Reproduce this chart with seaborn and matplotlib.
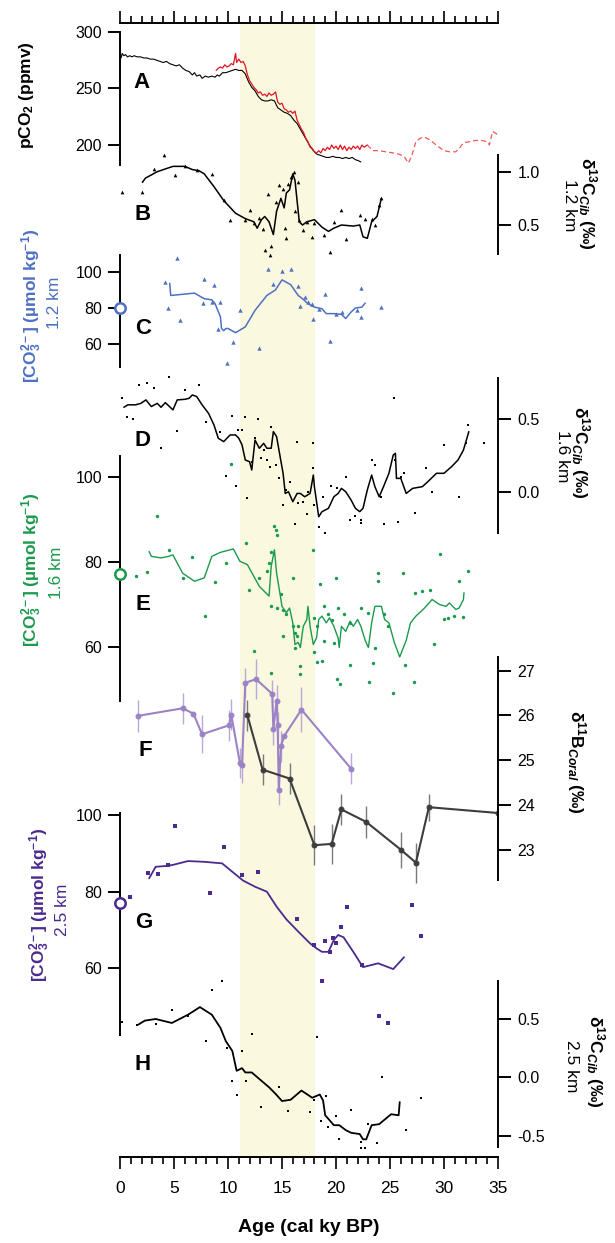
import matplotlib
matplotlib.use("Agg")
import matplotlib.pyplot as plt
from matplotlib.ticker import MultipleLocator
import seaborn as sns

sns.set_theme(style="ticks")
plt.rcParams["font.family"] = ["Liberation Sans", "DejaVu Sans"]
plt.rcParams["mathtext.fontset"] = "custom"
plt.rcParams["mathtext.rm"] = "Liberation Sans"
plt.rcParams["mathtext.it"] = "Liberation Sans:italic"
plt.rcParams["mathtext.bf"] = "Liberation Sans:bold"
plt.rcParams["mathtext.bfit"] = "Liberation Sans:bold:italic"
plt.rcParams["axes.unicode_minus"] = False
for key in ["text.color", "axes.labelcolor", "axes.edgecolor", "xtick.color", "ytick.color",
            "xtick.labelcolor", "ytick.labelcolor"]:
    plt.rcParams[key] = "black"

# ---------------- data ----------------
# A: atmospheric pCO2, ice core composite (black)
co2_ice_age = [0.1, 0.2, 0.35, 0.5, 0.7, 0.9, 1.1, 1.3, 1.6, 1.9, 2.2, 2.5, 2.8, 3.1, 3.4, 3.7,
               4.0, 4.3, 4.6, 4.9, 5.2, 5.5, 5.8, 6.1, 6.4, 6.7, 6.9, 7.1, 7.4, 7.6, 7.9, 8.2,
               8.5, 8.8, 9.0, 9.2, 9.5, 9.8, 10.1, 10.4, 10.7, 11.0, 11.3, 11.6, 11.9, 12.2,
               12.5, 12.8, 13.1, 13.4, 13.7, 14.0, 14.3, 14.6, 14.9, 15.2, 15.5, 15.8, 16.1,
               16.4, 16.7, 17.0, 17.3, 17.6, 17.9, 18.2, 18.5, 18.8, 19.1, 19.4, 19.7, 20.0,
               20.3, 20.6, 20.9, 21.2, 21.5, 21.8, 22.1, 22.3]
co2_ice = [277, 281, 279, 280, 278, 279, 278, 279, 278, 278, 277, 277, 276, 276, 275, 274,
           273, 274, 272, 271, 270, 271, 268, 266, 265, 262, 264, 261, 262, 259, 261, 260,
           261, 260, 262, 261, 264, 264, 265, 266, 267, 266, 266, 263, 256, 251,
           248, 243, 240, 239, 239, 240, 239, 233, 231, 229, 228, 226, 222,
           219, 214, 209, 204, 199, 195, 192, 191, 190, 189, 189, 190, 189,
           189, 188, 189, 188, 189, 187, 186, 185]
# A: high-resolution record (red)
co2_hr_age = [8.9, 9.1, 9.3, 9.5, 9.7, 9.9, 10.1, 10.3, 10.5, 10.7, 10.8, 11.0, 11.2, 11.4,
              11.6, 11.8, 12.0, 12.2, 12.4, 12.6, 12.8, 13.0, 13.2, 13.4, 13.6, 13.8, 14.0,
              14.2, 14.4, 14.6, 14.8, 15.0, 15.2, 15.4, 15.6, 15.8, 16.0, 16.2, 16.4, 16.6,
              16.8, 17.0, 17.2, 17.4, 17.6, 17.8, 18.0, 18.2, 18.4, 18.6, 18.8, 19.0, 19.2,
              19.4, 19.6, 19.8, 20.0, 20.2, 20.4, 20.6, 20.8, 21.0, 21.2, 21.4, 21.6, 21.8,
              22.0, 22.2, 22.4, 22.6, 22.9]
co2_hr = [266, 268, 269, 268, 271, 269, 270, 272, 271, 281, 273, 276, 273, 274,
          270, 262, 257, 254, 251, 249, 246, 247, 244, 245, 243, 246, 244,
          245, 247, 238, 236, 237, 232, 231, 229, 230, 228, 230, 222, 218,
          214, 211, 206, 203, 198, 197, 194, 193, 195, 193, 197, 195, 198,
          196, 200, 197, 199, 196, 200, 196, 199, 195, 198, 196, 199, 197,
          199, 196, 200, 198, 200]
# A: older extension (dashed red)
co2_ext_age = [22.9, 23.4, 24.0, 24.6, 25.3, 25.8, 26.3, 26.7, 27.0, 27.4, 27.8, 28.2, 28.6,
               28.9, 29.4, 30.0, 30.5, 31.1, 31.5, 31.8, 32.4, 32.9, 33.5, 34.0, 34.2, 34.5, 35.0]
co2_ext = [200, 195, 195, 194, 193, 192, 190, 184, 190, 203, 206, 207, 205,
           203, 199, 195, 194, 194, 198, 202, 203, 204, 204, 203, 200, 212, 209]

# B: d13C Cib, 1.2 km
b_line_age = [2.07, 2.36, 3.45, 4.9, 6.0, 6.7, 7.3, 7.8, 8.7, 9.6, 10.7, 11.6, 12.4, 12.7, 13.1,
              13.4, 13.8, 14.2, 14.5, 14.9, 15.2, 15.4, 15.7, 16.0, 16.2, 16.6, 16.9, 17.3,
              18.0, 18.7, 19.3, 19.8, 20.5, 21.6, 22.2, 22.5, 22.9, 23.3, 23.8, 24.2]
b_line = [0.90, 0.94, 1.00, 1.05, 1.05, 1.02, 1.01, 0.98, 0.86, 0.73, 0.61, 0.56, 0.53, 0.47, 0.55,
          0.58, 0.53, 0.41, 0.63, 0.75, 0.66, 0.80, 0.83, 0.98, 0.92, 0.53, 0.50, 0.53,
          0.55, 0.48, 0.44, 0.47, 0.50, 0.49, 0.50, 0.39, 0.375, 0.53, 0.58, 0.75]
b_pts_age = [0.18, 2.07, 3.16, 4.1, 5.1, 6.0, 7.1, 8.5, 9.6, 10.2, 11.6, 12.0, 12.4, 12.9, 13.2,
             13.4, 13.9, 14.0, 13.7, 14.4, 14.7, 15.1, 15.3, 15.4, 15.6, 15.8, 16.1, 16.2,
             16.5, 16.6, 16.9, 17.3, 17.8, 18.0, 18.9, 19.4, 19.8, 20.5, 20.9, 22.2, 22.7,
             23.3, 23.6, 24.0, 24.2]
b_pts = [0.81, 0.81, 1.03, 1.16, 0.97, 1.05, 1.02, 0.98, 0.73, 0.55, 0.55, 0.64, 0.52, 0.57, 0.46,
         0.27, 0.22, 0.30, 0.79, 0.72, 0.875, 0.84, 0.47, 0.375, 0.88, 0.95, 1.0, 0.63,
         0.90, 0.55, 0.45, 0.53, 0.39, 0.52, 0.41, 0.25, 0.53, 0.64, 0.37, 0.59, 0.56,
         0.56, 0.50, 0.69, 0.75]

# C: [CO3 2-], 1.2 km
c_line_age = [4.6, 4.7, 6.9, 7.8, 8.5, 8.8, 9.3, 9.4, 9.6, 9.8, 10.0, 10.7, 11.6, 12.5, 13.6,
              14.4, 15.0, 15.8, 16.5, 16.9, 17.4, 18.0, 18.7, 19.1, 19.8, 20.5, 20.9, 21.4,
              21.8, 22.4, 22.7]
c_line = [93.6, 86.9, 88.2, 85.1, 84.5, 82.4, 75.1, 68.7, 67.5, 68.7, 68.7, 66.4, 69.6, 78.7, 86.9,
          90.0, 95.5, 92.9, 86.9, 85.1, 82.4, 80.5, 79.6, 76.9, 76.9, 76.5, 74.2, 77.8,
          80.0, 80.5, 82.7]
c_pts_age = [4.2, 5.3, 4.4, 5.6, 7.8, 7.7, 8.7, 8.5, 9.3, 9.1, 10.5, 11.1, 9.9, 12.9, 13.7,
             15.0, 15.8, 14.2, 16.5, 16.7, 17.1, 17.4, 17.8, 17.9, 18.4, 19.0, 19.4, 20.0,
             20.6, 21.9, 22.3, 22.3, 24.2]
c_pts = [94.2, 107.5, 80.0, 73.3, 96.0, 82.7, 92.9, 83.3, 83.3, 68.7, 61.5, 79.1, 49.6, 57.8, 101.5,
         100.5, 101.5, 93.3, 92.0, 80.9, 86.0, 83.3, 82.4, 73.8, 79.6, 87.8, 62.0, 76.9,
         77.8, 78.7, 90.9, 75.1, 80.5]
c_modern = 80.0

# D: d13C Cib, 1.6 km
d_line_age = [0.36, 0.73, 1.45, 1.93, 2.4, 2.9, 3.45, 3.8, 4.2, 4.9, 5.3, 6.0, 6.4, 6.7, 7.1,
              7.6, 8.2, 8.7, 9.1, 9.6, 10.2, 10.7, 11.0, 11.3, 11.6, 12.0, 12.2, 12.5, 12.9,
              13.3, 13.6, 14.0, 14.2, 14.5, 14.8, 15.1, 15.3, 15.6, 16.0, 16.4, 16.7, 17.1,
              17.6, 17.9, 18.0, 18.4, 18.7, 19.3, 19.8, 20.2, 20.5, 20.9, 21.4, 21.8, 22.2,
              22.5, 22.9, 23.3, 23.6, 24.0, 24.4, 24.9, 25.3, 25.5, 25.6, 26.0, 26.5, 27.1,
              28.0, 28.5, 29.3, 30.0, 30.7, 31.3, 31.8, 32.3]
d_line = [0.583, 0.60, 0.60, 0.61, 0.634, 0.588, 0.61, 0.583, 0.615, 0.565, 0.634, 0.638, 0.645,
          0.668, 0.657, 0.60, 0.541, 0.461, 0.369, 0.346, 0.392, 0.392, 0.369, 0.323, 0.219,
          0.207, 0.150, 0.357, 0.30, 0.334, 0.30, 0.30, 0.415, 0.380, 0.253, 0.127, -0.012,
          0.0, -0.069, -0.012, -0.012, -0.035, -0.012, 0.115, 0.035, -0.173, -0.138, -0.115,
          -0.035, -0.012, 0.023, 0.0, -0.058, -0.115, -0.138, -0.115, 0.012, 0.115, 0.035,
          -0.035, 0.035, 0.127, 0.253, 0.265, 0.092, 0.092, -0.012, 0.023, 0.035, 0.069,
          0.127, 0.127, 0.173, 0.219, 0.288, 0.415]
d_pts_age = [0.18, 0.62, 1.2, 1.8, 2.5, 3.16, 3.8, 4.5, 5.3, 6.0, 7.3, 8.0, 9.3, 9.8, 10.4, 10.7,
             10.9, 11.3, 11.6, 11.8, 12.2, 12.5, 12.8, 13.1, 13.3, 13.6, 13.9, 14.0, 14.4,
             14.7, 15.1, 15.4, 15.7, 16.2, 16.4, 16.5, 16.9, 17.3, 17.4, 17.9, 17.9, 18.0,
             18.4, 19.0, 18.8, 19.5, 20.1, 20.9, 21.3, 21.8, 22.3, 22.3, 23.3, 23.6, 24.2,
             24.4, 25.4, 25.5, 25.7, 26.0, 26.3, 27.3, 28.3, 28.9, 30.0, 31.4, 32.0, 32.2, 33.7]
d_pts = [0.645, 0.514, 0.50, 0.737, 0.749, 0.714, 0.30, 0.79, 0.422, 0.703, 0.737, 0.484, 0.415,
         0.108, 0.523, 0.039, 0.426, 0.426, 0.514, -0.042, 0.207, 0.369, 0.50, 0.230, 0.288,
         0.219, 0.168, 0.449, 0.184, 0.092, -0.092, 0.012, 0.069, -0.224, 0.346, -0.081,
         -0.069, -0.154, 0.0, 0.161, 0.334, -0.092, -0.247, -0.288, -0.035, 0.039, 0.023,
         0.104, -0.196, -0.168, -0.219, -0.196, 0.219, 0.184, -0.035, -0.224, 0.645, 0.219,
         -0.207, 0.104, 0.127, -0.150, 0.161, 0.0, 0.323, -0.039, 0.339, 0.461, 0.339]

# E: [CO3 2-], 1.6 km
e_line_age = [2.7, 2.9, 3.8, 4.5, 4.9, 5.8, 6.9, 7.8, 8.5, 9.3, 10.5, 11.1, 11.8, 12.9, 13.8,
              14.0, 14.3, 14.5, 14.8, 15.0, 15.4, 15.7, 16.0, 16.2, 16.5, 16.7, 16.97, 17.3,
              17.4, 17.6, 17.9, 18.2, 18.4, 18.7, 19.1, 19.4, 19.8, 20.2, 20.3, 20.5, 20.9,
              21.3, 21.6, 22.0, 22.3, 22.7, 23.0, 23.3, 23.6, 24.2, 24.5, 24.9, 25.4, 25.9,
              26.5, 26.9, 27.4, 28.2, 28.9, 29.6, 30.2, 30.5, 31.1, 31.4, 31.8, 31.85]
e_line = [82.4, 81.25, 80.9, 81.25, 81.6, 77.3, 75.4, 76.2, 81.25, 82.2, 83.0, 80.1, 79.3, 74.2,
          71.9, 78.9, 82.8, 77.3, 72.7, 69.5, 68.0, 69.1, 65.6, 60.5, 61.0, 59.8, 64.8, 66.4,
          69.5, 64.8, 60.5, 62.1, 66.4, 67.2, 65.6, 66.8, 64.8, 62.0, 59.8, 64.8, 63.6,
          66.0, 64.8, 66.4, 64.8, 61.5, 59.8, 65.6, 69.5, 69.5, 66.4, 65.6, 61.0, 57.6,
          61.5, 65.6, 67.2, 69.1, 71.1, 69.9, 69.5, 70.3, 68.75, 69.1, 71.1, 72.7]
e_pts_age = [1.45, 2.5, 3.45, 4.5, 5.8, 6.7, 7.9, 8.8, 9.8, 10.3, 11.7, 11.9, 12.9, 13.6, 13.8,
             14.0, 14.3, 14.4, 14.5, 14.0, 14.5, 14.9, 15.1, 15.4, 16.0, 16.0, 16.2, 16.4,
             16.5, 17.9, 18.0, 18.2, 18.5, 18.9, 19.3, 19.6, 20.0, 20.2, 20.7, 21.3, 22.3,
             23.0, 23.9, 23.9, 24.4, 24.8, 26.2, 27.3, 28.0, 28.7, 29.6, 30.0, 30.4, 30.9,
             31.4, 31.8, 32.2, 12.4, 14.0, 15.1, 16.2, 16.7, 16.7, 18.0, 18.2, 18.7, 18.9,
             19.8, 20.1, 20.4, 21.3, 23.1, 23.4, 23.6, 25.3, 26.4, 27.2, 29.1]
e_pts = [76.7, 77.5, 90.8, 82.8, 76.2, 81.1, 67.3, 75.2, 79.8, 102.9, 84.4, 73.4, 76.2, 77.7, 79.7,
         82.4, 88.4, 87.5, 86.3, 69.5, 69.1, 72.3, 68.75, 67.6, 76.2, 64.8, 63.3, 62.5,
         64.8, 82.8, 66.8, 64.8, 74.8, 69.5, 67.6, 66.4, 76.2, 69.1, 67.6, 65.6, 69.1,
         68.0, 77.3, 75.4, 67.6, 64.8, 77.3, 72.7, 73.0, 73.4, 81.9, 66.6, 66.8, 67.2,
         75.4, 67.0, 77.7, 59.1, 53.9, 62.5, 59.6, 55.5, 53.6, 58.8, 56.3, 56.7, 61.3,
         60.8, 52.5, 51.2, 55.7, 51.8, 56.1, 59.6, 49.2, 55.7, 51.6, 60.6]
e_modern = 77.1

# F: d11B of deep-sea corals (two sites)
f_lt_age = [1.64, 5.8, 6.8, 7.6, 10.1, 10.3, 11.1, 11.3, 11.6, 12.6, 14.1, 14.2, 14.5, 14.6,
            14.7, 14.9, 15.2, 16.8, 21.4]
f_lt = [25.99, 26.16, 26.04, 25.58, 25.78, 26.02, 24.94, 24.89, 26.73, 26.81, 26.48, 25.69,
        26.33, 25.78, 24.34, 25.31, 25.54, 26.13, 24.81]
f_lt_err = [0.35, 0.35, 0.0, 0.43, 0.34, 0.34, 0.34, 0.39, 0.34, 0.45, 0.32, 0.35, 0.34, 0.3,
            0.35, 0.35, 0.0, 0.5, 0.34]
f_dk_age = [11.8, 13.2, 15.7, 18.0, 19.6, 20.5, 22.8, 26.0, 27.4, 28.6, 35.0]
f_dk = [26.0, 24.79, 24.59, 23.1, 23.13, 23.9, 23.62, 23.0, 22.71, 23.95, 23.82]
f_dk_err = [0.34, 0.35, 0.35, 0.45, 0.45, 0.35, 0.35, 0.4, 0.45, 0.3, 0.0]

# G: [CO3 2-], 2.5 km
g_line_age = [2.7, 3.3, 4.2, 4.9, 6.3, 7.8, 9.45, 10.4, 11.4, 12.5, 13.6, 14.5, 15.4, 16.5,
              17.6, 18.2, 18.7, 19.3, 19.8, 20.2, 20.7, 21.6, 22.5, 23.9, 25.3, 26.3]
g_line = [83.5, 86.5, 86.7, 87.0, 88.0, 87.8, 87.4, 85.2, 82.9, 81.3, 80.0, 76.1, 72.8, 69.6,
          66.5, 65.2, 64.3, 64.3, 67.4, 68.7, 68.1, 64.3, 60.3, 61.3, 59.8, 62.9]
g_pts_age = [0.9, 2.6, 3.5, 4.4, 5.1, 9.6, 8.35, 11.3, 12.8, 16.4, 18.0, 18.7, 19.0, 19.4,
             19.7, 20.0, 20.5, 21.0, 27.0, 27.9, 24.0, 24.8, 22.4]
g_pts = [78.5, 85.0, 84.6, 87.0, 97.1, 91.6, 79.6, 84.3, 85.1, 72.9, 66.1, 56.8, 67.0, 64.3,
         67.8, 66.5, 70.7, 76.1, 76.5, 68.4, 47.6, 45.8, 60.9]
g_modern = 77.1

# H: d13C Cib, 2.5 km
h_line_age = [1.7, 2.3, 3.3, 4.8, 6.3, 7.4, 8.5, 9.3, 9.8, 10.4, 10.8, 11.3, 11.6, 12.2, 12.9,
              13.8, 14.4, 15.0, 15.8, 16.8, 17.8, 18.5, 18.8, 19.0, 19.4, 19.8, 20.3, 20.9,
              21.4, 22.2, 22.5, 22.8, 23.3, 24.0, 25.1, 25.8, 25.9]
h_line = [0.452, 0.486, 0.50, 0.466, 0.537, 0.602, 0.537, 0.424, 0.31, 0.226, 0.056, 0.079,
          0.042, 0.042, -0.014, -0.085, -0.141, -0.203, -0.192, -0.113, -0.175, -0.147,
          -0.198, -0.325, -0.367, -0.41, -0.41, -0.452, -0.475, -0.486, -0.531, -0.531,
          -0.41, -0.401, -0.316, -0.325, -0.212]
h_pts_age = [0.18, 1.6, 3.3, 4.8, 6.3, 8.0, 8.5, 9.45, 9.9, 12.25, 11.3, 18.2, 10.4, 10.8,
             11.7, 13.1, 14.7, 15.6, 17.6, 18.0, 19.1, 18.6, 19.3, 20.0, 20.3, 21.4, 22.3,
             22.3, 22.7, 23.0, 23.8, 24.3, 26.5, 27.9]
h_pts = [0.472, 0.452, 0.458, 0.579, 0.523, 0.311, 0.749, 0.828, 0.254, 0.373, 0.226, 0.347,
         -0.028, -0.155, -0.034, -0.254, -0.085, -0.288, -0.297, -0.198, -0.164, -0.373,
         -0.424, -0.333, -0.528, -0.282, -0.551, -0.607, -0.602, -0.401, -0.559, 0.006,
         -0.452, -0.181]

band_start, band_end = 11.15, 18.05
age_ticks = [0, 5, 10, 15, 20, 25, 30, 35]

# colours
RED, RED_LT = "#df1620", "#f0585a"
BLUE = "#4d70c2"
GREEN = "#1a9a4c"
PURPLE_LT, PURPLE_LT_ERR = "#9c82c6", "#bba8db"
GREY, GREY_ERR = "#3d3d3d", "#7a7a7a"
PURPLE_DK = "#4b2a8f"
BAND = "#faf8df"

# ---------------- layout ----------------
W, H = 615, 1243
X0, X1 = 120, 498      # pixel columns of age 0 and 35
YT, YB = 23, 1157      # pixel rows of the top and bottom age axes
RECT = [X0 / W, 1 - YB / H, (X1 - X0) / W, (YB - YT) / H]

fig = plt.figure(figsize=(W / 100, H / 100), dpi=100)


def fpos(x, y):
    return x / W, 1 - y / H


base = fig.add_axes(RECT)
base.set_xlim(0, 35)
base.set_ylim(0, 1)
base.set_facecolor("none")
base.axvspan(band_start, band_end, color=BAND, lw=0, zorder=0)
base.spines["left"].set_visible(False)
base.spines["right"].set_visible(False)
for s in ["top", "bottom"]:
    base.spines[s].set_linewidth(1.4)
base.set_yticks([])
base.set_xticks(age_ticks)
base.xaxis.set_minor_locator(MultipleLocator(1))
base.tick_params(axis="x", which="major", direction="out", length=8.5, width=1.2,
                 top=True, bottom=True, labeltop=False, labelsize=12.5, pad=9)
base.tick_params(axis="x", which="minor", direction="out", length=5, width=1.2,
                 top=True, bottom=True)
base.set_xlabel("")


def panel(side, v1, p1, v2, p2, top_px, bot_px, ticks):
    """transparent full-height axes; value v1 sits at pixel row p1, v2 at p2"""
    ax = fig.add_axes(RECT)
    ax.set_facecolor("none")
    k = (v2 - v1) / (p2 - p1)

    def val(p):
        return v1 + (p - p1) * k

    ax.set_xlim(0, 35)
    ax.set_ylim(val(YB), val(YT))
    for s in ax.spines.values():
        s.set_visible(False)
    sp = ax.spines[side]
    sp.set_visible(True)
    sp.set_linewidth(1.4)
    sp.set_bounds(val(bot_px), val(top_px))
    ax.set_xticks([])
    ax.yaxis.set_ticks_position(side)
    ax.set_yticks(ticks)
    ax.tick_params(axis="y", direction="out", length=9, width=1.4, labelsize=11.5,
                   pad=4 if side == "left" else 5, left=(side == "left"),
                   right=(side == "right"), labelleft=(side == "left"),
                   labelright=(side == "right"))
    return ax


def finish(ax):
    ax.set_xlabel("")
    ax.set_ylabel("")
    ax.set_xlim(0, 35)


# A
axA = panel("left", 300, 32, 200, 145, 32, 165, [200, 250, 300])
sns.lineplot(x=co2_ext_age, y=co2_ext, ax=axA, color=RED_LT, lw=0.9,
             linestyle=(0, (4, 2.5)), estimator=None, sort=False)
sns.lineplot(x=co2_ice_age, y=co2_ice, ax=axA, color="black", lw=0.8,
             estimator=None, sort=False)
sns.lineplot(x=co2_hr_age, y=co2_hr, ax=axA, color=RED, lw=0.9,
             estimator=None, sort=False)
finish(axA)

# B
axB = panel("right", 1.0, 171.7, 0.5, 225, 155, 254, [0.5, 1.0])
sns.scatterplot(x=b_pts_age, y=b_pts, ax=axB, marker="^", s=7, color="black", linewidth=0)
sns.lineplot(x=b_line_age, y=b_line, ax=axB, color="black", lw=1.1, estimator=None, sort=False)
finish(axB)

# C
axC = panel("left", 100, 271.7, 60, 344.3, 255, 367, [60, 80, 100])
sns.scatterplot(x=c_pts_age, y=c_pts, ax=axC, marker="^", s=10, color=BLUE, linewidth=0)
sns.lineplot(x=c_line_age, y=c_line, ax=axC, color=BLUE, lw=1.1, estimator=None, sort=False)
axC.plot([0], [c_modern], "o", mfc="white", mec=BLUE, ms=7.5, mew=1.8, clip_on=False, zorder=10)
finish(axC)

# D
axD = panel("right", 0.5, 419.3, 0.0, 491.7, 378, 533, [0.0, 0.5])
sns.scatterplot(x=d_pts_age, y=d_pts, ax=axD, marker="s", s=2.5, color="black", linewidth=0)
sns.lineplot(x=d_line_age, y=d_line, ax=axD, color="black", lw=1.1, estimator=None, sort=False)
finish(axD)

# E
axE = panel("left", 100, 476.7, 60, 646.7, 456, 701, [60, 80, 100])
sns.scatterplot(x=e_pts_age, y=e_pts, ax=axE, marker="o", s=6, color=GREEN, linewidth=0)
sns.lineplot(x=e_line_age, y=e_line, ax=axE, color=GREEN, lw=1.0, estimator=None, sort=False)
axE.plot([0], [e_modern], "o", mfc="white", mec=GREEN, ms=7.5, mew=1.8, clip_on=False, zorder=10)
finish(axE)

# F
axF = panel("right", 27, 670.7, 23, 849.7, 657, 880, [23, 24, 25, 26, 27])
axF.vlines(f_lt_age, [v - e for v, e in zip(f_lt, f_lt_err)],
           [v + e for v, e in zip(f_lt, f_lt_err)], color=PURPLE_LT_ERR, lw=1.0)
axF.vlines(f_dk_age, [v - e for v, e in zip(f_dk, f_dk_err)],
           [v + e for v, e in zip(f_dk, f_dk_err)], color=GREY_ERR, lw=1.0)
sns.lineplot(x=f_lt_age, y=f_lt, ax=axF, color=PURPLE_LT, lw=1.5, marker="o", ms=3.5,
             mec=PURPLE_LT, estimator=None, sort=False)
sns.lineplot(x=f_dk_age, y=f_dk, ax=axF, color=GREY, lw=1.5, marker="o", ms=3.5,
             mec=GREY, estimator=None, sort=False)
finish(axF)

# G
axG = panel("left", 80, 891.7, 60, 968.3, 813, 1035, [60, 80, 100])
sns.scatterplot(x=g_pts_age, y=g_pts, ax=axG, marker="s", s=6, color=PURPLE_DK, linewidth=0)
sns.lineplot(x=g_line_age, y=g_line, ax=axG, color=PURPLE_DK, lw=1.3, estimator=None, sort=False)
axG.plot([0], [g_modern], "o", mfc="white", mec=PURPLE_DK, ms=7.5, mew=1.8, clip_on=False, zorder=10)
finish(axG)

# H
axH = panel("right", 0.5, 1019, -0.5, 1135.7, 981, 1147, [-0.5, 0.0, 0.5])
sns.scatterplot(x=h_pts_age, y=h_pts, ax=axH, marker="s", s=4, color="black", linewidth=0)
sns.lineplot(x=h_line_age, y=h_line, ax=axH, color="black", lw=1.3, estimator=None, sort=False)
finish(axH)

# panel letters
for letter, (lx, ly) in {"A": (141, 83), "B": (143, 215), "C": (143, 328), "D": (143, 440),
                         "E": (143, 604), "F": (145, 751), "G": (144, 922), "H": (143, 1065)}.items():
    fig.text(*fpos(lx, ly), letter, fontsize=16, fontweight="bold", ha="center", va="center",
             color="black")

# axis titles
co3 = r"[CO$_\mathbf{3}^\mathbf{2-}$] (µmol kg$^\mathbf{-1}$)"
d13 = r"δ$^\mathbf{13}$C$_\mathbfit{Cib}$ (‰)"


def vlabel(x, y, s, rot, color="black", bold=True):
    fig.text(*fpos(x, y), s, rotation=rot, rotation_mode="anchor", ha="center",
             va="baseline", fontsize=12.5, color=color,
             fontweight="bold" if bold else "normal")


vlabel(31, 95, r"pCO$_\mathbf{2}$ (ppmv)", 90)
vlabel(37, 306, co3, 90, BLUE)
vlabel(59, 303, "1.2 km", 90, BLUE, bold=False)
vlabel(37, 570, co3, 90, GREEN)
vlabel(61, 573, "1.6 km", 90, GREEN, bold=False)
vlabel(45, 905, co3, 90, PURPLE_DK)
vlabel(67, 910, "2.5 km", 90, PURPLE_DK, bold=False)

vlabel(582, 203, d13, 270)
vlabel(565, 205, "1.2 km", 270, bold=False)
vlabel(575, 452, d13, 270)
vlabel(558, 456, "1.6 km", 270, bold=False)
vlabel(571, 762, r"δ$^\mathbf{11}$B$_\mathbfit{Coral}$ (‰)", 270)
vlabel(590, 1061, d13, 270)
vlabel(567, 1066, "2.5 km", 270, bold=False)

fig.text(*fpos(309, 1228), "Age (cal ky BP)", fontsize=14, fontweight="bold",
         ha="center", va="center", color="black")

fig.savefig("out.png", dpi=100)
